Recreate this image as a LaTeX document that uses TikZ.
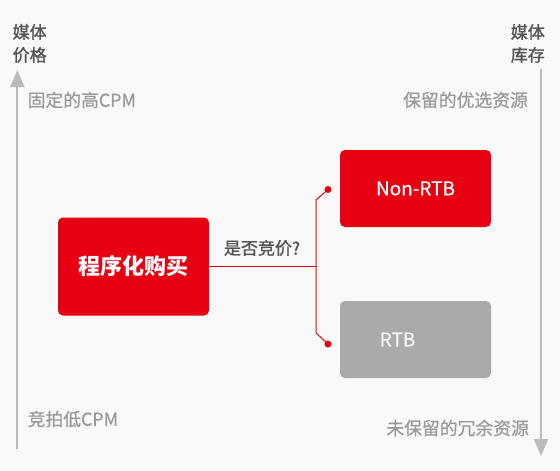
\documentclass[tikz,border=0pt]{standalone}
\usepackage{fontspec}
\setmainfont{Noto Sans CJK SC}
\newfontfamily\medfont[FakeBold=0.6]{Noto Sans CJK SC}
\newfontfamily\semifont[FakeBold=1.4]{Noto Sans CJK SC}
\usetikzlibrary{arrows.meta}
\definecolor{bg}{HTML}{F9F9F9}
\definecolor{brand}{HTML}{E60012}
\definecolor{boxgray}{HTML}{AAAAAA}
\definecolor{axisgray}{HTML}{BBBBBB}
\definecolor{labelgray}{HTML}{999999}
\definecolor{titlegray}{HTML}{555555}
\tikzset{
  box/.style={rounded corners=5pt, inner sep=0pt, minimum width=151pt, minimum height=77pt, text=white},
  axis/.style={draw=axisgray, line width=2pt, -{Triangle[length=17pt,width=14pt]}},
  axistitle/.style={inner sep=0pt, text=titlegray, font=\fontsize{17}{23}\selectfont\semifont},
  endlabel/.style={inner sep=0pt, text=labelgray, font=\fontsize{17.8}{20}\selectfont\medfont},
  wire/.style={draw=brand, line width=1pt},
  dot/.style={circle, fill=brand, inner sep=0pt, minimum size=7pt}
}
\begin{document}
\begin{tikzpicture}[x=1pt,y=-1pt]
\fill[bg] (0,0) rectangle (560,471);
\useasboundingbox (0,0) rectangle (560,471);
% axes
\coordinate (lbot) at (17.3,449);
\coordinate (ltop) at (17.3,70);
\coordinate (rtop) at (541,69);
\coordinate (rbot) at (541,456);
\draw[axis] (lbot) -- (ltop);
\draw[axis] (rtop) -- (rbot);
% axis titles
\node[axistitle, anchor=west, align=left] (ptitle) at (12.5,43.5) {媒体\\价格};
\node[axistitle, anchor=east, align=right] (ititle) at (545,43.5) {媒体\\库存};
% end labels
\node[endlabel, anchor=west] (hicpm) at (27.5,100) {固定的高CPM};
\node[endlabel, anchor=west] (locpm) at (27.5,419) {竞拍低CPM};
\node[endlabel, anchor=east] (pref) at (528,100) {保留的优选资源};
\node[endlabel, anchor=east] (rem) at (529,428) {未保留的冗余资源};
% boxes
\node[box, fill=brand, minimum width=151pt, minimum height=98pt, font=\fontsize{22}{26}\selectfont\bfseries] (main) at (133.5,266.5) {程序化购买};
\node[box, fill=brand, font=\fontsize{19}{22}\selectfont\medfont] (nonrtb) at (415.5,188.5) {Non-RTB};
\node[box, fill=boxgray] (rtb) at (415.5,339.5) {};
\node[inner sep=0pt, text=white!96!black, font=\fontsize{19}{22}\selectfont\medfont] (rtbtext) at (397.5,339.5) {RTB};
% question
\node[inner sep=0pt, text=titlegray, font=\fontsize{17}{20}\selectfont\semifont] (q) at (262,248) {是否竞价?};
% connector
\coordinate (split) at (316,266.5);
\coordinate (tb) at (316,200);
\coordinate (bb) at (316,333);
\node[dot] (tdot) at (328,189.5) {};
\node[dot] (bdot) at (328,344) {};
\draw[wire] (main.east) -- (split);
\draw[wire] (tdot.center) -- (tb) -- (bb) -- (bdot.center);
\end{tikzpicture}
\end{document}
